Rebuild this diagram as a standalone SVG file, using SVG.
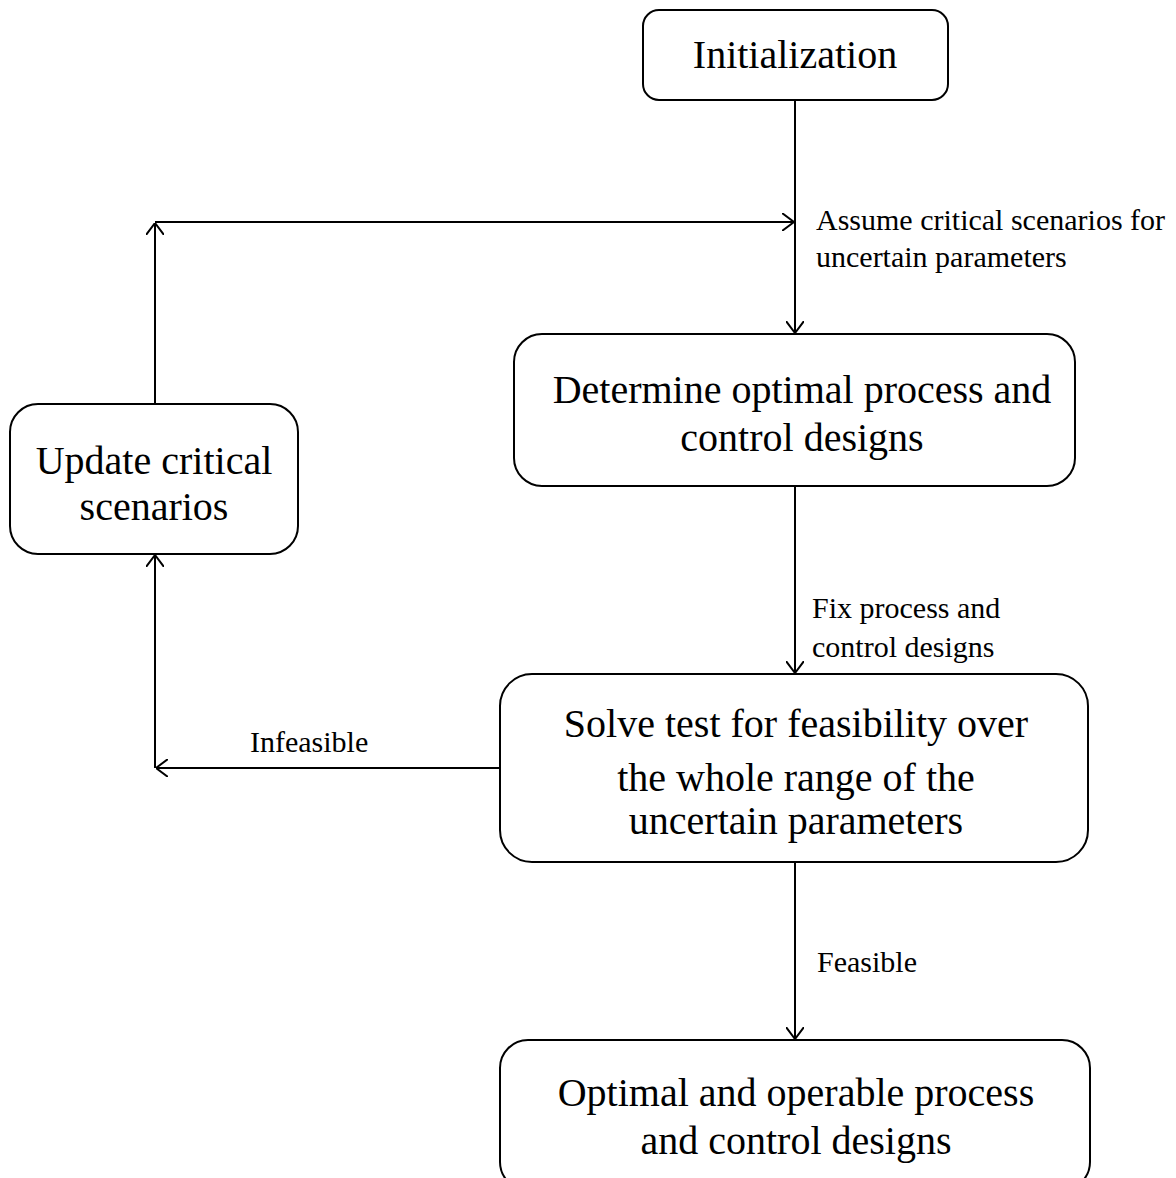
<svg xmlns="http://www.w3.org/2000/svg" width="1176" height="1178" viewBox="0 0 1176 1178">
  <style>
    .box { fill: #ffffff; stroke: #000000; stroke-width: 2; }
    .big { font-family: "Liberation Serif", "Times New Roman", serif; font-size: 40px; fill: #000000; text-anchor: middle; }
    .lbl { font-family: "Liberation Serif", "Times New Roman", serif; font-size: 30px; fill: #000000; }
    .edge { fill: none; stroke: #000000; stroke-width: 2; }
  </style>
  <defs>
    <marker id="arrow" viewBox="0 0 12 18" refX="12" refY="9" markerWidth="12" markerHeight="18" markerUnits="userSpaceOnUse" orient="auto">
      <path d="M0,0 L12,9 L0,18" fill="none" stroke="#000000" stroke-width="2"/>
    </marker>
  </defs>
  <rect width="1176" height="1178" fill="#ffffff"/>

  <g id="connectors">
    <line class="edge" x1="795" y1="100" x2="795" y2="333" marker-end="url(#arrow)"/>
    <line class="edge" x1="155" y1="222" x2="794" y2="222" marker-end="url(#arrow)"/>
    <line class="edge" x1="155" y1="404" x2="155" y2="223" marker-end="url(#arrow)"/>
    <line class="edge" x1="795" y1="486" x2="795" y2="673" marker-end="url(#arrow)"/>
    <line class="edge" x1="500" y1="768" x2="156" y2="768" marker-end="url(#arrow)"/>
    <line class="edge" x1="155" y1="768" x2="155" y2="555" marker-end="url(#arrow)"/>
    <line class="edge" x1="795" y1="862" x2="795" y2="1039" marker-end="url(#arrow)"/>
    <text class="lbl" x="816" y="230">Assume critical scenarios for</text>
    <text class="lbl" x="816" y="267">uncertain parameters</text>
    <text class="lbl" x="812" y="618">Fix process and</text>
    <text class="lbl" x="812" y="657">control designs</text>
    <text class="lbl" x="250" y="752">Infeasible</text>
    <text class="lbl" x="817" y="972">Feasible</text>
  </g>

  <g id="initialization">
    <rect class="box" x="643" y="10" width="305" height="90" rx="16"/>
    <text class="big" x="795" y="68">Initialization</text>
  </g>

  <g id="determine-designs">
    <rect class="box" x="514" y="334" width="561" height="152" rx="28"/>
    <text class="big" x="802" y="403">Determine optimal process and</text>
    <text class="big" x="802" y="451">control designs</text>
  </g>

  <g id="update-scenarios">
    <rect class="box" x="10" y="404" width="288" height="150" rx="28"/>
    <text class="big" x="154" y="474">Update critical</text>
    <text class="big" x="154" y="520">scenarios</text>
  </g>

  <g id="feasibility-test">
    <rect class="box" x="500" y="674" width="588" height="188" rx="32"/>
    <text class="big" x="796" y="737">Solve test for feasibility over</text>
    <text class="big" x="796" y="791">the whole range of the</text>
    <text class="big" x="796" y="834">uncertain parameters</text>
  </g>

  <g id="final-designs">
    <rect class="box" x="500" y="1040" width="590" height="150" rx="28"/>
    <text class="big" x="796" y="1106">Optimal and operable process</text>
    <text class="big" x="796" y="1154">and control designs</text>
  </g>
</svg>
